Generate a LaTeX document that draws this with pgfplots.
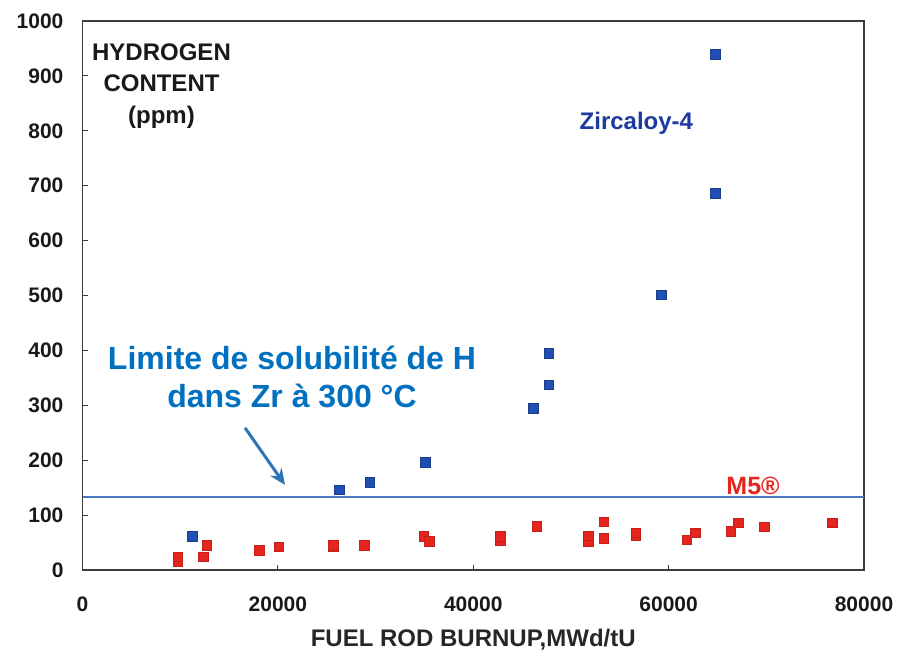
\documentclass[border=0pt]{standalone}
\usepackage{pgfplots}
\pgfplotsset{compat=1.18}
\usepackage{fontspec}
\setmainfont{Liberation Sans}
\usetikzlibrary{arrows.meta}
\definecolor{zblue}{RGB}{32,78,178}
\definecolor{mred}{RGB}{230,38,30}
\definecolor{zirctxt}{RGB}{30,58,160}
\definecolor{limtxt}{RGB}{0,112,192}
\definecolor{arrowc}{RGB}{46,117,182}
\definecolor{linec}{RGB}{74,120,192}
\definecolor{axc}{RGB}{60,60,60}
\begin{document}
\begin{tikzpicture}
\begin{axis}[
  name=ax,
  scale only axis,
  width=390.75pt, height=274.5pt,
  xmin=0, xmax=80000, ymin=0, ymax=1000,
  xtick={0,20000,40000,60000,80000},
  ytick={0,100,...,1000},
  xtick pos=bottom, ytick pos=left,
  scaled x ticks=false,
  /pgf/number format/1000 sep={},
  /pgf/number format/assume math mode=true,
  tick align=inside,
  major tick length=2.5pt,
  axis line style={axc, line width=0.7pt},
  tick style={axc, line width=0.5pt},
  ticklabel style={font=\fontsize{10.5}{12}\selectfont\bfseries, text=black!90},
  xticklabel style={yshift=-10pt},
  yticklabel style={xshift=-6pt},
  xlabel={FUEL ROD BURNUP,MWd/tU},
  every axis x label/.style={at={(axis description cs:0.5,-0.1275)}, anchor=center, font=\fontsize{12}{14}\selectfont\bfseries, text=black!85},
  clip=false,
]
% solubility limit
\addplot[no marks, linec, line width=1pt] coordinates {(0,133) (80000,133)};
% Zircaloy-4
\addplot[only marks, mark=square*, mark size=2.4pt, mark options={fill=zblue, draw=zblue!80!black, line width=0.3pt}] coordinates {
(11260,61) (26290,146) (29430,160) (35100,196) (46150,295) (47750,337) (47750,395) (59220,501) (64750,686) (64750,939)
};
% M5
\addplot[only marks, mark=square*, mark size=2.4pt, mark options={fill=mred, draw=mred!85!black, line width=0.3pt}] coordinates {
(9745,15) (9745,24) (12370,24) (12710,45) (18070,36) (20110,42) (25670,42) (25670,46) (28850,45.5)
(34950,61) (35470,52) (42740,54) (42740,61) (46490,80) (51780,52) (51780,62) (53380,88) (53380,58)
(56630,62) (56630,68) (61850,55) (62700,68) (66360,70) (67130,86) (69790,79) (76750,86)
};
\node[align=center, font=\fontsize{12}{15.75}\selectfont\bfseries, text=black!90] at (axis cs:8087,882) {HYDROGEN\\CONTENT\\(ppm)};
\node[font=\fontsize{12}{14}\selectfont\bfseries, text=zirctxt] at (axis cs:56700,814) {Zircaloy-4};
\node[font=\fontsize{12.5}{14}\selectfont\bfseries, text=mred] at (axis cs:68640,153) {M5®};
\node[align=center, font=\fontsize{16}{19}\selectfont\bfseries, text=limtxt] at (axis cs:21446,352) {Limite de solubilité de H\\dans Zr à 300 °C};
\draw[-{Stealth[length=8pt,width=7pt]}, arrowc, line width=1.5pt] (axis cs:16635,259) -- (axis cs:20730,155);
\end{axis}
\pgfresetboundingbox
\path[use as bounding box] ([xshift=-41.25pt, yshift=-43.5pt]ax.south west) rectangle ++(449pt,328.5pt);
\end{tikzpicture}
\end{document}
